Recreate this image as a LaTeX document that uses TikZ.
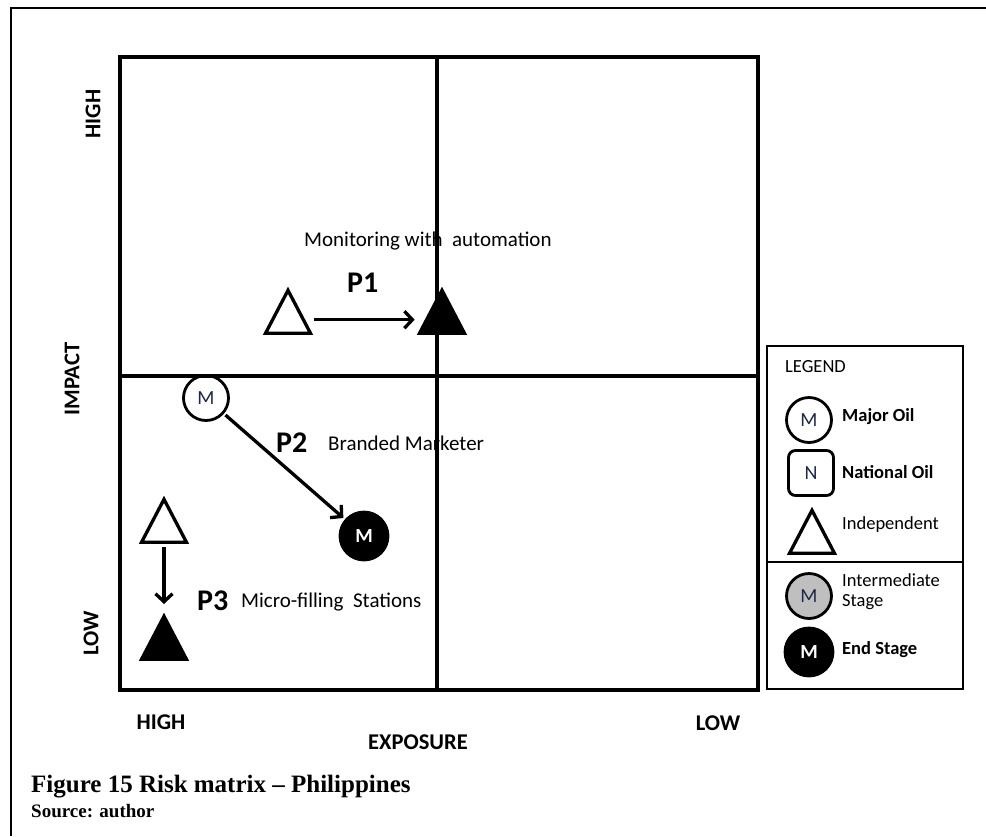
\documentclass[tikz,border=0pt]{standalone}
\usepackage{fontspec}
\setmainfont{Carlito}
\newfontfamily\serifcap[Ligatures=TeX]{Liberation Serif}
\usetikzlibrary{arrows.meta,shapes.geometric}
\definecolor{mtext}{RGB}{30,40,70}
\begin{document}
\begin{tikzpicture}[x=1pt,y=-1pt,
  grid/.style={line width=3.5pt},
  arr/.style={line width=3.3pt,-{Straight Barb[length=8pt,width=17pt]}},
  fs/.style={font=\fontsize{#1}{#1}\selectfont},
  tri/.style={draw,line width=3.3pt,line join=miter,isosceles triangle,isosceles triangle stretches,shape border rotate=90,minimum width=45pt,minimum height=43pt,inner sep=0pt,anchor=apex},
  ftri/.style={tri,fill=black},
  mcirc/.style={draw,circle,line width=2.8pt,minimum size=45pt,inner sep=0pt,text=mtext,fs=20},
  bcirc/.style={draw,circle,fill=black,line width=2.8pt,minimum size=48pt,inner sep=0pt,text=white,font=\fontsize{20}{20}\selectfont\bfseries},
  lbl/.style={fs=21,anchor=west,inner sep=0pt},
  plbl/.style={font=\fontsize{30}{30}\selectfont\bfseries,anchor=west,inner sep=0pt},
  axl/.style={font=\fontsize{22.5}{22.5}\selectfont\bfseries,inner sep=0pt},
  leg/.style={fs=18.5,anchor=west,inner sep=0pt,align=left},
  legb/.style={font=\fontsize{18.5}{18.5}\selectfont\bfseries,anchor=west,inner sep=0pt}
]
\useasboundingbox (0,0) rectangle (986,836);
\fill[white] (0,0) rectangle (986,836);
% outer frame
\draw[line width=2.5pt] (11,836) -- (11,8) -- (986,8);
% matrix
\draw[grid] (120,57) rectangle (758,690);
\draw[grid] (437,57) -- (437,690);
\draw[grid] (120,376) -- (758,376);
% axis labels
\node[axl,rotate=90] (yhigh) at (93,114) {HIGH};
\node[axl,rotate=90] (impact) at (72,379) {IMPACT};
\node[axl,rotate=90] (ylow) at (91,633) {LOW};
\node[axl] (xhigh) at (161,722) {HIGH};
\node[axl] (xlow) at (718,723) {LOW};
\node[axl] (exposure) at (418,742) {EXPOSURE};
% P1
\node[lbl] (mon) at (304,241) {Monitoring with\ \ automation};
\node[tri] (t1) at (288,286) {};
\node[ftri] (t2) at (442,286) {};
\draw[arr,shorten <=9pt,shorten >=10pt] (t1) -- (t2);
\node[plbl] (p1) at (347,283) {P1};
% P2
\node[mcirc] (m1) at (206,398) {M};
\node[bcirc] (m2) at (364,536) {M};
\draw[arr,shorten <=2pt,shorten >=2pt] (m1) -- (m2);
\node[plbl] (p2) at (276,443) {P2};
\node[lbl] (branded) at (328,443) {Branded Marketer};
% P3
\node[tri] (t3) at (164,495) {};
\node[ftri] (t4) at (164,612) {};
\draw[arr,shorten <=3pt,shorten >=8pt] (t3.south) -- (t4.apex);
\node[plbl] (p3) at (197,601) {P3};
\node[lbl] (micro) at (241,602) {Micro-filling\ \ Stations};
% legend
\draw[line width=2pt] (767,346) rectangle (963,689);
\draw[line width=2pt] (767,562) -- (963,562);
\node[leg] (legend) at (785,367) {LEGEND};
\node[mcirc] (lm) at (809,420) {M};
\node[legb] (lmt) at (842,417) {Major Oil};
\node[draw,rounded corners=7pt,line width=2.8pt,minimum size=45pt,inner sep=0pt,text=mtext,fs=20] (ln) at (811,473) {N};
\node[legb] (lnt) at (842,472) {National Oil};
\node[tri] (lt) at (812,506) {};
\node[leg] (ltt) at (842,525) {Independent};
\node[mcirc,fill=black!25] (lg) at (809,596) {M};
\node[leg] (lgt) at (842,580) {Intermediate};
\node[leg] (lgt2) at (842,602) {Stage};
\node[bcirc] (lb) at (809,652) {M};
\node[legb] (lbt) at (842,650) {End Stage};
% caption
\node[font=\serifcap\fontsize{25}{25}\selectfont\bfseries,anchor=west,inner sep=0pt] (cap) at (31,787) {Figure 15 Risk matrix – Philippines};
\node[font=\serifcap\fontsize{19}{19}\selectfont\bfseries,anchor=west,inner sep=0pt] (src) at (31,811) {Source: author};
\end{tikzpicture}
\end{document}
